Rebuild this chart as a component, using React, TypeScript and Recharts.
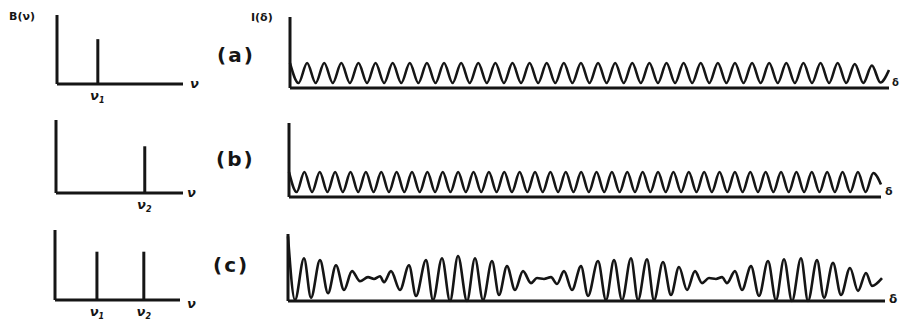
import { LineChart, Line, BarChart, Bar, XAxis, YAxis } from "recharts"

const INK = "#151515"
const FONT = "'DejaVu Sans', sans-serif"

// spectra B(ν): line positions on a 0-10 frequency scale, heights 0-1
const nuA = [3.2]
const bA = [0.65]
const subA = ["1"]
const nuB = [6.95]
const bB = [0.64]
const subB = ["2"]
const nuC = [3.35, 7.1]
const bC = [0.69, 0.69]
const subC = ["1", "2"]

// interferogram (a): successive maxima / minima, single line ν1
const intensityA = [
  1, 0.2, 1, 0.2, 1, 0.2, 1, 0.2, 1, 0.2, 1, 0.2, 1, 0.2, 1, 0.2, 1, 0.2, 1, 0.2,
  1, 0.2, 1, 0.2, 1, 0.2, 1, 0.2, 1, 0.2, 1, 0.2, 1, 0.2, 1, 0.2, 1, 0.2, 1, 0.2,
  1, 0.2, 1, 0.2, 1, 0.2, 1, 0.2, 1, 0.2, 1, 0.2, 1, 0.2, 1, 0.2, 1, 0.2, 1, 0.2,
  1, 0.2, 1, 0.2, 1, 0.2, 0.96, 0.2, 0.9, 0.22, 0.72,
]

// interferogram (b): single line ν2 (higher frequency)
const intensityB = [
  1, 0.2, 1, 0.2, 1, 0.2, 1, 0.2, 1, 0.2, 1, 0.2, 1, 0.2, 1, 0.2, 1, 0.2, 1, 0.2,
  1, 0.2, 1, 0.2, 1, 0.2, 1, 0.2, 1, 0.2, 1, 0.2, 1, 0.2, 1, 0.2, 1, 0.2, 1, 0.2,
  1, 0.2, 1, 0.2, 1, 0.2, 1, 0.2, 1, 0.2, 1, 0.2, 1, 0.2, 1, 0.2, 1, 0.2, 1, 0.2,
  1, 0.2, 1, 0.2, 1, 0.2, 1, 0.2, 1, 0.2, 1, 0.2, 1, 0.2, 1, 0.2, 0.96, 0.5,
]

// interferogram (c): both lines, beats. path difference δ and intensity
const deltaC = [
  0, 7, 16, 23, 32, 40, 48, 56, 64, 72, 80, 86, 92, 96, 103, 112, 121, 128, 138, 145,
  154, 162, 170, 179, 187, 195, 204, 211, 219, 227, 235, 243, 249, 256, 263, 269, 276, 284, 293, 300,
  310, 318, 326, 334, 343, 350, 359, 366, 375, 383, 391, 399, 407, 414, 421, 428, 434, 439, 447, 454,
  463, 471, 480, 488, 496, 504, 513, 520, 529, 536, 545, 553, 562, 570, 578, 584, 594,
]
const intensityC = [
  1.41, 0.02, 0.93, 0.07, 0.89, 0.17, 0.78, 0.24, 0.65, 0.43, 0.52, 0.48, 0.54, 0.41, 0.65, 0.24, 0.78, 0.11, 0.89, 0.02,
  0.93, 0, 0.98, 0, 0.93, 0.02, 0.87, 0.13, 0.76, 0.24, 0.65, 0.39, 0.5, 0.48, 0.52, 0.37, 0.65, 0.24, 0.76, 0.11,
  0.87, 0.02, 0.89, 0.02, 0.93, 0.02, 0.91, 0.02, 0.85, 0.13, 0.74, 0.24, 0.65, 0.39, 0.5, 0.48, 0.52, 0.39, 0.65, 0.24,
  0.76, 0.11, 0.87, 0.02, 0.91, 0, 0.93, 0, 0.89, 0.07, 0.83, 0.13, 0.72, 0.22, 0.61, 0.33, 0.5,
]

const axisStyle = { stroke: INK, strokeWidth: 3 }
const PAD = 4
const YW = 2

function Spectrum({ left, top, width, height, nu, b, subs }: any) {
  const data = nu.map((n: number, i: number) => ({ nu: n, b: b[i] }))
  const tick = (p: any) => (
    <text
      x={p.x}
      y={p.y + 8}
      textAnchor="middle"
      fontFamily={FONT}
      fontWeight="bold"
      fontStyle="italic"
      fontSize={13}
      fill={INK}
    >
      ν<tspan fontSize={8} dy={3}>{subs[p.index]}</tspan>
    </text>
  )
  return (
    <div style={{ position: "absolute", left: left - PAD, top: top - PAD }}>
      <BarChart
        width={width + PAD * 2}
        height={height + PAD + 26}
        data={data}
        margin={{ top: PAD, right: PAD, left: PAD - YW, bottom: 0 }}
      >
        <XAxis
          type="number"
          dataKey="nu"
          domain={[0, 10]}
          ticks={nu}
          tick={tick}
          tickLine={false}
          axisLine={axisStyle}
          height={26}
          interval={0}
        />
        <YAxis type="number" domain={[0, 1]} width={YW} tick={false} tickLine={false} axisLine={axisStyle} />
        <Bar dataKey="b" fill={INK} barSize={3} isAnimationActive={false} />
      </BarChart>
    </div>
  )
}

function Interferogram({ left, top, width, height, data, yMax, numeric }: any) {
  return (
    <div style={{ position: "absolute", left: left - PAD, top: top - PAD }}>
      <LineChart
        width={width + PAD * 2}
        height={height + PAD * 2}
        data={data}
        margin={{ top: PAD, right: PAD, left: PAD - YW, bottom: 0 }}
      >
        {numeric ? (
          <XAxis type="number" dataKey="d" domain={[0, 597]} height={PAD} tick={false} tickLine={false} axisLine={axisStyle} />
        ) : (
          <XAxis dataKey="n" height={PAD} tick={false} tickLine={false} axisLine={axisStyle} />
        )}
        <YAxis type="number" domain={[0, yMax]} width={YW} tick={false} tickLine={false} axisLine={axisStyle} />
        <Line
          type="monotone"
          dataKey="v"
          stroke={INK}
          strokeWidth={2.6}
          dot={false}
          isAnimationActive={false}
        />
      </LineChart>
    </div>
  )
}

function Label({ x, y, size, children, italic }: any) {
  return (
    <div
      style={{
        position: "absolute",
        left: x,
        top: y,
        fontFamily: FONT,
        fontWeight: "bold",
        fontStyle: italic ? "italic" : "normal",
        fontSize: size,
        lineHeight: 1,
        color: INK,
        whiteSpace: "nowrap",
        letterSpacing: size > 15 ? 2 : 0,
      }}
    >
      {children}
    </div>
  )
}

export default function App() {
  const dataA = intensityA.map((v, n) => ({ n, v }))
  const dataB = intensityB.map((v, n) => ({ n, v }))
  const dataC = deltaC.map((d, i) => ({ d, v: intensityC[i] }))

  return (
    <div style={{ position: "absolute", left: 0, top: 0, width: 902, height: 322, background: "#fff", overflow: "hidden" }}>
      <Label x={9} y={11} size={11}>B(ν)</Label>
      <Label x={251} y={12} size={11}>I(δ)</Label>

      <Spectrum left={57} top={15} width={126} height={69} nu={nuA} b={bA} subs={subA} />
      <Spectrum left={56} top={120} width={127} height={73} nu={nuB} b={bB} subs={subB} />
      <Spectrum left={55} top={230} width={125} height={70} nu={nuC} b={bC} subs={subC} />

      <Label x={190} y={77} size={13} italic>ν</Label>
      <Label x={187} y={186} size={13} italic>ν</Label>
      <Label x={187} y={297} size={13} italic>ν</Label>

      <Label x={217} y={45} size={20}>(a)</Label>
      <Label x={216} y={149} size={20}>(b)</Label>
      <Label x={213} y={255} size={20}>(c)</Label>

      <Interferogram left={290} top={17} width={599} height={71} data={dataA} yMax={2.84} />
      <Interferogram left={289} top={123} width={592} height={74} data={dataB} yMax={2.96} />
      <Interferogram left={288} top={234} width={597} height={67} data={dataC} yMax={1.46} numeric />

      <Label x={892} y={78} size={10}>δ</Label>
      <Label x={885} y={186} size={11}>δ</Label>
      <Label x={889} y={293} size={12}>δ</Label>
    </div>
  )
}
